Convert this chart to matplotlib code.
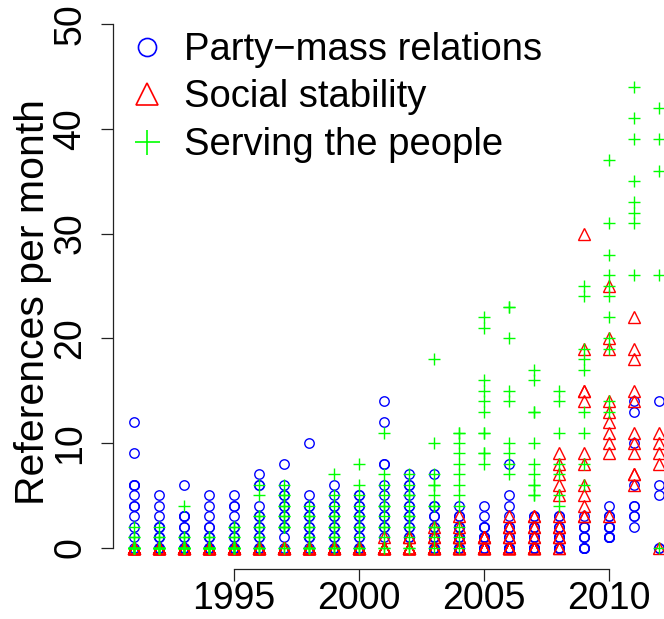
import matplotlib
matplotlib.use("Agg")
import matplotlib.pyplot as plt
from matplotlib.lines import Line2D

plt.rcParams['font.family'] = ['Liberation Sans', 'DejaVu Sans']

years = list(range(1991, 2013))

party_mass = [
    [12, 9, 6, 6, 6, 5, 4, 4, 3, 2, 1, 0],
    [5, 4, 3, 2, 2, 2, 1, 1, 1, 0, 0, 0],
    [6, 3, 3, 3, 2, 2, 1, 1, 0, 0, 0, 0],
    [5, 4, 3, 2, 2, 1, 1, 1, 0, 0, 0, 0],
    [5, 4, 4, 3, 2, 2, 1, 1, 0, 0, 0, 0],
    [7, 6, 6, 4, 3, 3, 2, 2, 1, 1, 0, 0],
    [8, 6, 5, 5, 4, 4, 3, 3, 2, 2, 1, 0],
    [10, 5, 4, 4, 3, 3, 2, 2, 1, 1, 1, 0],
    [6, 5, 4, 4, 3, 3, 2, 2, 1, 1, 0, 0],
    [5, 5, 4, 4, 3, 3, 2, 2, 1, 1, 0, 0],
    [14, 12, 8, 8, 6, 5, 4, 3, 3, 2, 2, 1],
    [7, 6, 6, 5, 4, 4, 3, 3, 2, 2, 1, 1],
    [7, 4, 4, 3, 3, 2, 2, 1, 1, 1, 0, 0],
    [4, 3, 3, 2, 2, 2, 1, 1, 1, 0, 0, 0],
    [4, 3, 2, 2, 2, 1, 1, 1, 1, 0, 0, 0],
    [8, 5, 4, 3, 2, 2, 1, 1, 0, 0, 0, 0],
    [3, 3, 2, 2, 1, 1, 1, 0, 0, 0, 0, 0],
    [3, 3, 2, 2, 1, 1, 1, 0, 0, 0, 0, 0],
    [3, 2, 2, 2, 1, 1, 1, 0, 0, 0, 0, 0],
    [4, 3, 3, 2, 2, 2, 2, 1, 1, 1, 1, 1],
    [14, 13, 10, 6, 4, 4, 3, 3, 2],
    [14, 6, 5, 0, 0],
]

social_stability = [
    [0] * 12, [0] * 12, [0] * 12, [0] * 12, [0] * 12, [0] * 12,
    [0] * 12, [0] * 12, [0] * 12, [0] * 12,
    [1, 0, 0, 0, 0, 0, 0, 0, 0, 0, 0, 0],
    [1, 1, 0, 0, 0, 0, 0, 0, 0, 0, 0, 0],
    [2, 1, 1, 0, 0, 0, 0, 0, 0, 0, 0, 0],
    [3, 2, 1, 1, 1, 0, 0, 0, 0, 0, 0, 0],
    [1, 1, 1, 1, 0, 0, 0, 0, 0, 0, 0, 0],
    [3, 2, 2, 1, 1, 0, 0, 0, 0, 0, 0, 0],
    [3, 3, 2, 2, 1, 1, 0, 0, 0, 0, 0, 0],
    [9, 8, 7, 6, 5, 3, 2, 2, 1, 1, 0, 0],
    [30, 19, 15, 15, 14, 9, 8, 6, 5, 4, 3, 3],
    [25, 20, 19, 14, 13, 12, 11, 10, 9, 3],
    [22, 19, 18, 15, 14, 11, 10, 9, 7, 7, 6],
    [11, 10, 9, 8, 0],
]

serving_people = [
    [2, 1, 1, 0, 0, 0, 0, 0, 0, 0, 0, 0],
    [2, 1, 1, 0, 0, 0, 0, 0, 0, 0, 0, 0],
    [4, 1, 1, 0, 0, 0, 0, 0, 0, 0, 0, 0],
    [1, 1, 0, 0, 0, 0, 0, 0, 0, 0, 0, 0],
    [2, 2, 1, 1, 0, 0, 0, 0, 0, 0, 0, 0],
    [6, 5, 3, 3, 2, 2, 1, 1, 0, 0, 0, 0],
    [6, 5, 5, 4, 4, 3, 3, 2, 2, 2, 0, 0],
    [4, 3, 3, 2, 2, 1, 1, 0, 0, 0, 0, 0],
    [7, 5, 4, 3, 3, 2, 2, 1, 1, 0, 0, 0],
    [8, 6, 5, 4, 3, 3, 2, 2, 1, 0, 0, 0],
    [11, 7, 6, 5, 4, 4, 3, 2, 2, 1, 0, 0],
    [7, 6, 5, 5, 4, 3, 3, 2, 2, 1, 0, 0],
    [18, 10, 7, 6, 6, 5, 4, 4, 2, 2, 1, 0],
    [11, 11, 10, 9, 8, 7, 6, 5, 4, 2, 1, 0],
    [22, 21, 16, 15, 14, 13, 11, 11, 9, 9, 8],
    [23, 23, 20, 15, 14, 10, 9, 8, 7],
    [17, 16, 13, 13, 10, 8, 7, 6, 6, 5, 5],
    [15, 14, 11, 8, 7, 5, 4],
    [25, 24, 19, 18, 17, 13, 11, 8, 6],
    [37, 31, 28, 26, 25, 24, 22, 20, 19, 14, 13],
    [44, 41, 39, 35, 33, 32, 31, 26],
    [42, 39, 36, 26, 0],
]

labels = ["Party\u2212mass relations", "Social stability", "Serving the people"]
x_ticks = [1995, 2000, 2005, 2010]
y_ticks = [0, 10, 20, 30, 40, 50]

W, H = 664, 619
fig = plt.figure(figsize=(W / 100, H / 100), dpi=100)
ax = fig.add_axes([112.7 / W, (H - 568.6) / H, 567.0 / W, 565.3 / H])
ax.patch.set_alpha(0)


def expand(series):
    xs, ys = [], []
    for yr, vals in zip(years, series):
        xs.extend([yr] * len(vals))
        ys.extend(vals)
    return xs, ys


FS = 27
px, py = expand(party_mass)
ax.plot(px, py, 'o', ls='none', mfc='none', mec='#0000FF', ms=6.8, mew=1.0, clip_on=False)
sx, sy = expand(social_stability)
ax.plot(sx, sy, '^', ls='none', mfc='none', mec='#FF0000', ms=8.6, mew=1.0, clip_on=False)
gx, gy = expand(serving_people)
ax.plot(gx, gy, '+', ls='none', color='#00FF00', ms=9.0, mew=1.0, clip_on=False)

ax.set_xlim(1990.16, 2012.84)
ax.set_ylim(-2, 52)
for s in ['top', 'right']:
    ax.spines[s].set_visible(False)
ax.spines['left'].set_bounds(0, 50)
ax.spines['bottom'].set_bounds(1995, 2010)
for s in ['left', 'bottom']:
    ax.spines[s].set_color('#222222')
    ax.spines[s].set_linewidth(0.9)
ax.set_xticks(x_ticks)
ax.set_yticks(y_ticks)
ax.set_xticklabels([str(t) for t in x_ticks])
ax.set_yticklabels([str(t) for t in y_ticks], rotation=90, va='center')
ax.tick_params(axis='both', length=8.6, width=0.9, color='#222222', labelsize=FS)
ax.tick_params(axis='x', pad=0)
ax.tick_params(axis='y', pad=9)

fig.text(33 / W, 1 - 302 / H, "References per month", rotation=90,
         ha='center', va='center', fontsize=29.5)

handles = [
    Line2D([], [], marker='o', ls='none', mfc='none', mec='#0000FF', ms=13, mew=1.2),
    Line2D([], [], marker='^', ls='none', mfc='none', mec='#FF0000', ms=16.5, mew=1.2),
    Line2D([], [], marker='+', ls='none', color='#00FF00', ms=18, mew=1.2),
]
leg = fig.legend(handles, labels, loc='upper left',
                 bbox_to_anchor=(132 / W, 1 - 32 / H), frameon=False,
                 fontsize=27.5, handlelength=0.8, handletextpad=0.55,
                 borderpad=0, borderaxespad=0, labelspacing=0.3)

fig.savefig("out.png", dpi=100)
